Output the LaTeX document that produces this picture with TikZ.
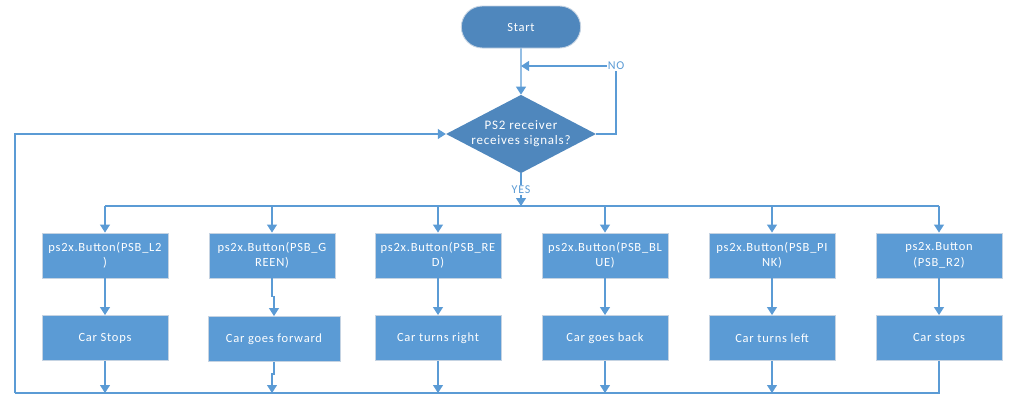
\documentclass[tikz,border=0pt]{standalone}
\usepackage{fontspec}
\setmainfont{Carlito}[LetterSpace=6]
\usetikzlibrary{positioning, arrows.meta, calc, shapes.geometric, shapes.misc}
\definecolor{boxblue}{HTML}{5B9BD5}
\definecolor{darkblue}{HTML}{4F87BD}
\definecolor{rimgrey}{HTML}{C5D3E2}
\tikzset{
	box/.style={draw=rimgrey, line width=0.9pt, fill=boxblue, text=white, align=center,
		minimum width=126pt, minimum height=45pt, inner sep=2pt, font=\fontsize{12.5}{15.5}\selectfont},
	term/.style={draw=rimgrey, line width=0.9pt, fill=darkblue, text=white, rounded rectangle,
		minimum width=126pt, minimum height=42pt, font=\fontsize{12.5}{15}\selectfont},
	decide/.style={diamond, aspect=1.9, fill=darkblue, text=white, align=center,
		minimum width=150pt, minimum height=78pt, inner sep=0pt, font=\fontsize{13}{15}\selectfont},
	tag/.style={fill=white, text=boxblue, inner sep=1pt, font=\fontsize{12}{13}\selectfont},
	link/.style={draw=boxblue, line width=1.1pt},
	arr/.style={link, -{Triangle[width=10pt, length=8pt]}}
}
\begin{document}
\begin{tikzpicture}[x=1pt, y=-1pt]
		\useasboundingbox (0,0) rectangle (1011,410);
		%Start and decision
		\node (start) at (521,27) [term]{Start};
		\node (dia) at (521,134) [decide]{PS2 receiver\\receives signals?};
		\node (no) at (616,66) [tag]{NO};
		\node (yes) at (521,190) [tag]{YES};
		
		%Buttons
		\node (b1) at (105,255.5) [box]{ps2x.Button(PSB\_L2\\)};
		\node (b2) at (272,255.5) [box]{ps2x.Button(PSB\_G\\REEN)};
		\node (b3) at (438,255.5) [box]{ps2x.Button(PSB\_RE\\D)};
		\node (b4) at (605,255.5) [box]{ps2x.Button(PSB\_BL\\UE)};
		\node (b5) at (772,255.5) [box]{ps2x.Button(PSB\_PI\\NK)};
		\node (b6) at (939,255.5) [box]{ps2x.Button\\(PSB\_R2)};
		
		%Actions
		\node (c1) at (105,338) [box]{Car Stops};
		\node (c2) at (274,339) [box, minimum width=132pt]{Car goes forward};
		\node (c3) at (438,338) [box]{Car turns right};
		\node (c4) at (605,338) [box]{Car goes back};
		\node (c5) at (772,338) [box]{Car turns left};
		\node (c6) at (939,338) [box]{Car stops};
		
		%Corners
		\coordinate (bus) at (521,206);
		\coordinate (back) at (15,393);
		
		%Flow
		\draw[arr] (start) -- (dia);
		\draw[link] (dia.east) -| (no.south);
		\draw[arr] (no.west) -- (no.west -| start.south);
		\draw[link] (dia.south) -- (yes.north);
		\draw[arr] (yes.south) -- (bus);
		\draw[link] (b1.north |- bus) -- (b6.north |- bus);
		\draw[arr] (b1.north |- bus) -- (b1.north);
		\draw[arr] (b2.north |- bus) -- (b2.north);
		\draw[arr] (b3.north |- bus) -- (b3.north);
		\draw[arr] (b4.north |- bus) -- (b4.north);
		\draw[arr] (b5.north |- bus) -- (b5.north);
		\draw[arr] (b6.north |- bus) -- (b6.north);
		
		\draw[arr] (b1) -- (c1);
		\draw[arr] (b2.south) -- ++(0,18) -| (c2.north);
		\draw[arr] (b3) -- (c3);
		\draw[arr] (b4) -- (c4);
		\draw[arr] (b5) -- (c5);
		\draw[arr] (b6) -- (c6);
		
		\draw[arr] (c1.south) -- (c1.south |- back);
		\draw[arr] (c2.south) -- ++(0,12) -| ($(b2.south |- back)$);
		\draw[arr] (c3.south) -- (c3.south |- back);
		\draw[arr] (c4.south) -- (c4.south |- back);
		\draw[arr] (c5.south) -- (c5.south |- back);
		\draw[link] (c6.south) |- (back);
		\draw[arr] (back) |- (dia.west);
\end{tikzpicture}
\end{document}
